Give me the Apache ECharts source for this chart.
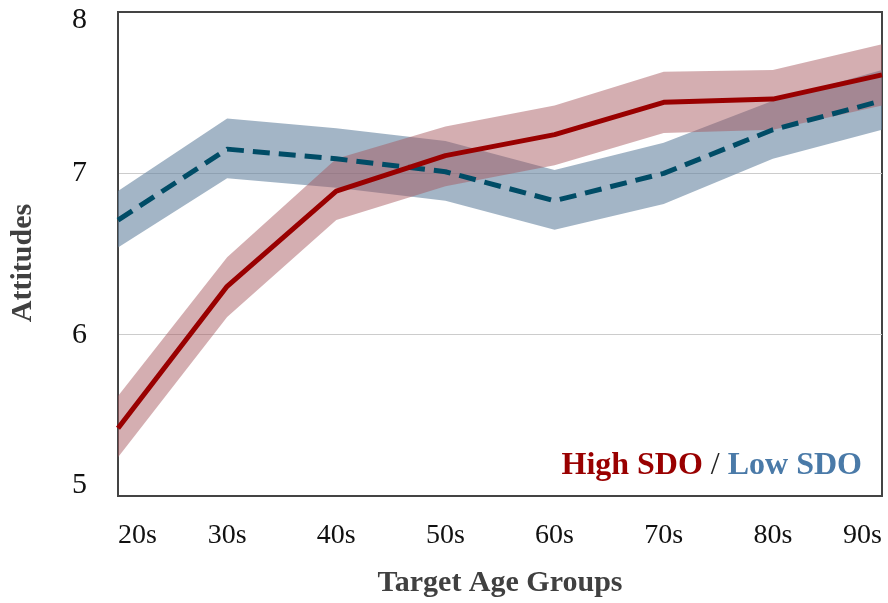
<!DOCTYPE html>
<html>
<head>
<meta charset="utf-8">
<script src="https://cdn.jsdelivr.net/npm/echarts@6/dist/echarts.min.js"></script>
<style>
  html, body { margin: 0; padding: 0; background: #fff; }
  #chart { width: 888px; height: 603px; }
</style>
</head>
<body>
<div id="chart"></div>
<script>
// Target age groups on the x axis
const ageGroups = ['20s', '30s', '40s', '50s', '60s', '70s', '80s', '90s'];

// High SDO: mean attitude with lower/upper band limits
const highMean  = [5.42, 6.30, 6.89, 7.11, 7.24, 7.44, 7.46, 7.61];
const highLower = [5.24, 6.11, 6.71, 6.92, 7.05, 7.25, 7.27, 7.42];
const highUpper = [5.62, 6.48, 7.09, 7.29, 7.42, 7.63, 7.64, 7.80];

// Low SDO: mean attitude with lower/upper band limits
const lowMean  = [6.71, 7.15, 7.09, 7.01, 6.83, 7.00, 7.27, 7.45];
const lowLower = [6.54, 6.97, 6.91, 6.83, 6.65, 6.81, 7.09, 7.27];
const lowUpper = [6.89, 7.34, 7.28, 7.20, 7.02, 7.19, 7.45, 7.64];

// y-axis tick values
const yTicks = [5, 6, 7, 8];

const SERIF = '"Liberation Serif", "DejaVu Serif", serif';
const RED = '#990000';
const BLUE = '#004c66';

function diff(upper, lower) {
  return upper.map((u, i) => +(u - lower[i]).toFixed(3));
}

// band = invisible base line + stacked difference filled as area
function band(name, lower, upper, fill) {
  return [
    {
      name: name + '-base', type: 'line', stack: name, data: lower,
      symbol: 'none', lineStyle: { opacity: 0 }, silent: true, z: 1
    },
    {
      name: name + '-band', type: 'line', stack: name, data: diff(upper, lower),
      symbol: 'none', lineStyle: { opacity: 0 }, areaStyle: { color: fill, opacity: 1 },
      silent: true, z: 1
    }
  ];
}

const chart = echarts.init(document.getElementById('chart'), null, { renderer: 'canvas' });

const tickFont = { fontFamily: SERIF, fontSize: 30, color: '#111111' };

chart.setOption({
  animation: false,
  backgroundColor: '#ffffff',
  grid: {
    left: 117, right: 6, top: 12, bottom: 105,
    show: true, borderColor: '#444444', borderWidth: 2, backgroundColor: 'transparent'
  },
  xAxis: {
    type: 'category',
    data: ageGroups,
    boundaryGap: false,
    name: 'Target Age Groups',
    nameLocation: 'middle',
    nameGap: 72,
    nameTextStyle: { fontFamily: SERIF, fontSize: 30, fontWeight: 'bold', color: '#404040' },
    axisLine: { show: true, lineStyle: { color: '#444444', width: 2 } },
    axisTick: { show: false },
    splitLine: { show: false },
    axisLabel: {
      fontFamily: SERIF, fontSize: 28, color: '#111111', margin: 26,
      alignMinLabel: 'left', alignMaxLabel: 'right'
    }
  },
  yAxis: {
    type: 'value',
    min: yTicks[0],
    max: yTicks[yTicks.length - 1],
    interval: 1,
    name: 'Attitudes',
    nameLocation: 'middle',
    nameGap: 80,
    nameTextStyle: { fontFamily: SERIF, fontSize: 30, fontWeight: 'bold', color: '#404040', padding: [0, 18, 0, 0] },
    axisLine: { show: true, lineStyle: { color: '#444444', width: 2 } },
    axisTick: { show: false },
    splitLine: {
      show: true,
      lineStyle: { color: '#cccccc', width: 1 },
      showMinLine: false, showMaxLine: false
    },
    axisLabel: {
      fontFamily: SERIF, fontSize: 30, color: '#111111', margin: 31,
      formatter: function (v) {
        if (v === yTicks[yTicks.length - 1]) return '{top|' + v + '}';
        if (v === yTicks[0]) return '{bot|' + v + '}';
        return '{mid|' + v + '}';
      },
      rich: {
        top: Object.assign({ padding: [16, 0, 0, 0] }, tickFont),
        mid: Object.assign({}, tickFont),
        bot: Object.assign({ padding: [0, 0, 22, 0] }, tickFont)
      }
    }
  },
  series: [
    ...band('low', lowLower, lowUpper, 'rgba(102,132,160,0.6)'),
    ...band('high', highLower, highUpper, 'rgba(165,86,92,0.48)'),
    {
      name: 'Low SDO', type: 'line', data: lowMean, symbol: 'none', z: 3,
      lineStyle: { color: BLUE, width: 5, type: [17, 9], cap: 'butt', join: 'round' }
    },
    {
      name: 'High SDO', type: 'line', data: highMean, symbol: 'none', z: 4,
      lineStyle: { color: RED, width: 5, join: 'round' }
    }
  ],
  graphic: [
    {
      type: 'text',
      right: 26,
      top: 450,
      style: {
        text: '{h|High SDO}{s| / }{l|Low SDO}',
        rich: {
          h: { fontFamily: SERIF, fontSize: 32, fontWeight: 'bold', fill: '#990000' },
          s: { fontFamily: SERIF, fontSize: 32, fill: '#222222' },
          l: { fontFamily: SERIF, fontSize: 32, fontWeight: 'bold', fill: '#4a7aa8' }
        }
      }
    }
  ]
});
</script>
</body>
</html>
